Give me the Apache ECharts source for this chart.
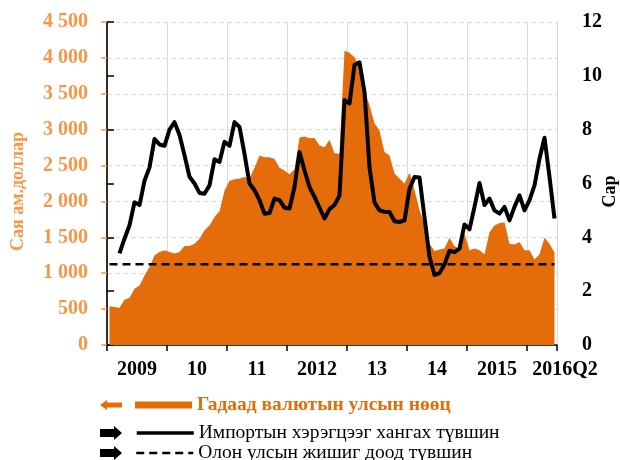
<!DOCTYPE html>
<html>
<head>
<meta charset="utf-8">
<script src="https://cdn.jsdelivr.net/npm/echarts@6/dist/echarts.min.js"></script>
<style>
  html, body { margin: 0; padding: 0; background: #fff; }
  #chart { width: 620px; height: 460px; }
</style>
</head>
<body>
<div id="chart"></div>
<script>
// monthly data, 2009-01 .. 2016-06
var reserves = [
  540, 530, 520, 630, 660, 785, 830, 970, 1085, 1250, 1295, 1320,       // 2009
  1295, 1275, 1295, 1380, 1380, 1410, 1480, 1600, 1665, 1785, 1865, 2150, // 2010
  2290, 2310, 2320, 2340, 2320, 2470, 2640, 2615, 2615, 2590, 2470, 2430, // 2011
  2380, 2450, 2890, 2905, 2880, 2885, 2780, 2755, 2860, 2670, 2665, 4100, // 2012
  4070, 4010, 3880, 3550, 3340, 3090, 2990, 2690, 2640, 2390, 2320, 2250, // 2013
  2400, 2160, 1880, 1690, 1410, 1310, 1330, 1345, 1495, 1375, 1345, 1550, // 2014
  1320, 1345, 1320, 1265, 1570, 1665, 1700, 1710, 1410, 1400, 1435, 1320, // 2015
  1320, 1190, 1265, 1495, 1410, 1290                                      // 2016
];
var coverage = [
  null, null, 3.4, 3.95, 4.45, 5.3, 5.2, 6.1, 6.6, 7.65, 7.45, 7.4,
  8.0, 8.28, 7.8, 7.05, 6.25, 6.0, 5.65, 5.62, 5.93, 6.9, 6.8, 7.55,
  7.4, 8.28, 8.1, 7.1, 6.0, 5.75, 5.38, 4.88, 4.9, 5.44, 5.38, 5.1,
  5.07, 5.87, 7.17, 6.49, 5.87, 5.5, 5.1, 4.7, 5.05, 5.2, 5.55, 9.1,
  8.97, 10.4, 10.5, 9.4, 6.6, 5.3, 5.0, 4.95, 4.94, 4.6, 4.57, 4.63,
  5.8, 6.24, 6.22, 4.75, 3.27, 2.6, 2.67, 3.0, 3.5, 3.45, 3.58, 4.48,
  4.3, 5.13, 6.02, 5.2, 5.44, 5.0, 4.88, 5.13, 4.63, 5.13, 5.56, 5.0,
  5.38, 5.93, 6.92, 7.7, 6.24, 4.7
];
var benchmark = 3; // сар
var yearLabels = ['2009', '10', '11', '2012', '13', '14', '2015', '2016Q2'];
var seriesNames = [
  'Гадаад валютын улсын нөөц',
  'Импортын хэрэгцээг хангах түвшин',
  'Олон улсын жишиг доод түвшин'
];

var orange = '#E46C0A';
var lightOrange = '#F79646';
var font = 'Liberation Serif';

// x = month index, point at the middle of the month
function toPoints(arr) {
  var out = [];
  for (var i = 0; i < arr.length; i++) {
    out.push([i + 0.5, arr[i]]);
  }
  return out;
}
var benchmarkLine = toPoints(reserves.map(function () { return benchmark; }));

function thousands(v) {
  return String(v).replace(/\B(?=(\d{3})+(?!\d))/g, ' ');
}

var chart = echarts.init(document.getElementById('chart'), null, { renderer: 'canvas' });

var legendBase = {
  left: 135, itemWidth: 57, itemHeight: 7, padding: 0, selectedMode: false,
  textStyle: { fontFamily: font, fontSize: 19.5, lineHeight: 20, color: '#000' }
};
var labelFont = { color: '#000', fontSize: 20, fontWeight: 'bold', fontFamily: font };

var option = {
  animation: false,
  backgroundColor: '#fff',
  textStyle: { fontFamily: font },
  grid: { left: 107, right: 63, top: 22, bottom: 115, outerBoundsMode: 'none', containLabel: false },
  xAxis: [
    {
      type: 'value', min: 0, max: reserves.length, interval: 12,
      axisLine: { lineStyle: { color: '#000', width: 1.5 } },
      axisTick: { show: true, length: 6, lineStyle: { color: '#000', width: 1.5 } },
      axisLabel: { show: false },
      splitLine: { show: true, lineStyle: { color: '#d9d9d9', width: 1 } }
    },
    {
      // year labels in the middle of each year
      type: 'value', min: 0, max: reserves.length, interval: 6, position: 'bottom',
      axisLine: { show: false }, axisTick: { show: false }, splitLine: { show: false },
      axisLabel: echarts.util.merge({
        margin: 15, showMaxLabel: false,
        formatter: function (v) {
          return v % 12 === 6 ? yearLabels[(v - 6) / 12] : '';
        }
      }, labelFont)
    },
    {
      // last label, set a bit right of the axis end
      type: 'value', min: 0, max: reserves.length, interval: reserves.length, position: 'bottom',
      axisLine: { show: false }, axisTick: { show: false }, splitLine: { show: false },
      axisLabel: echarts.util.merge({
        margin: 15, showMinLabel: false, padding: [0, 0, 0, 16],
        formatter: function (v) {
          return v === reserves.length ? yearLabels[yearLabels.length - 1] : '';
        }
      }, labelFont)
    }
  ],
  yAxis: [
    {
      type: 'value', min: 0, max: 4500, interval: 500, position: 'left',
      name: 'Сая ам.доллар', nameLocation: 'middle', nameGap: 80, nameRotate: 90, nameMoveOverlap: false,
      nameTextStyle: { color: lightOrange, fontSize: 18, fontWeight: 'bold', fontFamily: font, padding: [0, 16, 0, 0] },
      axisLine: { show: true, lineStyle: { color: lightOrange, width: 1.5 } },
      axisTick: { show: true, length: 6, lineStyle: { color: lightOrange, width: 1.5 } },
      axisLabel: {
        margin: 19, color: lightOrange, fontSize: 20, fontWeight: 'bold', fontFamily: font,
        formatter: thousands
      },
      splitLine: { show: true, lineStyle: { color: '#d9d9d9', type: [5, 3], width: 1 } }
    },
    {
      type: 'value', min: 0, max: 12, interval: 2, position: 'right',
      name: 'Сар', nameLocation: 'middle', nameGap: 44, nameRotate: 90, nameMoveOverlap: false,
      nameTextStyle: { color: '#000', fontSize: 18, fontWeight: 'bold', fontFamily: font, padding: [0, 16, 0, 0] },
      axisLine: { show: true, lineStyle: { color: '#000', width: 1.5 } },
      axisTick: { show: true, length: 7, lineStyle: { color: '#000', width: 1.5 } },
      axisLabel: { margin: 25, color: '#000', fontSize: 20, fontWeight: 'bold', fontFamily: font },
      splitLine: { show: false }
    }
  ],
  legend: [
    echarts.util.merge({
      data: [{ name: seriesNames[0], icon: 'rect', textStyle: { color: orange, fontWeight: 'bold' } }],
      top: 395
    }, legendBase),
    echarts.util.merge({
      data: [{ name: seriesNames[1], itemStyle: { opacity: 0 } }],
      lineStyle: { width: 3.5 },
      top: 423
    }, legendBase),
    echarts.util.merge({
      data: [{ name: seriesNames[2], itemStyle: { opacity: 0 } }],
      lineStyle: { width: 2.5 },
      top: 443
    }, legendBase)
  ],
  graphic: [
    { type: 'polygon', shape: { points: [[100, 405], [107, 400], [107, 402.5], [122, 402.5], [122, 407.5], [107, 407.5], [107, 410]] }, style: { fill: orange } },
    { type: 'polygon', shape: { points: [[100, 429], [114, 429], [114, 426], [122, 433], [114, 440], [114, 437], [100, 437]] }, style: { fill: '#000' } },
    { type: 'polygon', shape: { points: [[100, 449], [114, 449], [114, 446], [122, 453], [114, 460], [114, 457], [100, 457]] }, style: { fill: '#000' } }
  ],
  series: [
    {
      name: seriesNames[0], type: 'line', xAxisIndex: 0, yAxisIndex: 0,
      data: toPoints(reserves), symbol: 'none',
      itemStyle: { color: orange },
      lineStyle: { width: 0 },
      areaStyle: { color: orange, opacity: 1 }
    },
    {
      name: seriesNames[2], type: 'line', xAxisIndex: 0, yAxisIndex: 1,
      data: benchmarkLine, symbol: 'none',
      itemStyle: { color: '#000' },
      lineStyle: { color: '#000', width: 2.5, type: [8, 5] }
    },
    {
      name: seriesNames[1], type: 'line', xAxisIndex: 0, yAxisIndex: 1,
      data: toPoints(coverage), symbol: 'none',
      itemStyle: { color: '#000' },
      lineStyle: { color: '#000', width: 4, join: 'round' }
    }
  ]
};

chart.setOption(option);
</script>
</body>
</html>
